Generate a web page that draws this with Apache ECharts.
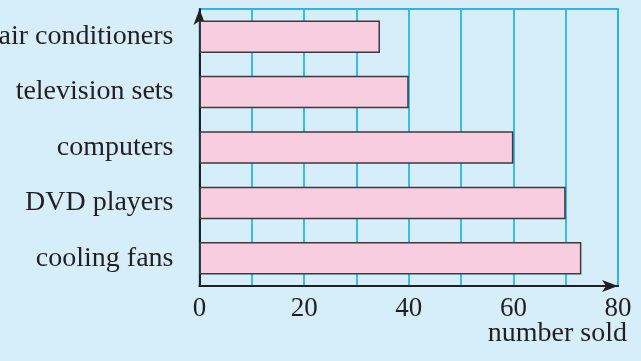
<!DOCTYPE html>
<html>
<head>
<meta charset="utf-8">
<script src="https://cdn.jsdelivr.net/npm/echarts@6/dist/echarts.min.js"></script>
<style>
html,body{margin:0;padding:0;background:#d6eefa;}
#chart{width:641px;height:361px;}
</style>
</head>
<body>
<div id="chart"></div>
<script>
const categories = ['air conditioners', 'television sets', 'computers', 'DVD players', 'cooling fans'];
const numberSold = [34.5, 40, 60, 70, 73];
const tickLabels = [0, 20, 40, 60, 80];
const axisTitle = 'number sold';

const chart = echarts.init(document.getElementById('chart'), null, {renderer: 'canvas'});
const font = '"Liberation Serif", "Times New Roman", serif';
chart.setOption({
  backgroundColor: '#d6eefa',
  animation: false,
  grid: {
    left: 199.5, right: 23, top: 9, bottom: 75,
    containLabel: false, outerBoundsMode: 'none',
    show: true, borderColor: '#2bb5e8', borderWidth: 1.8, backgroundColor: 'transparent'
  },
  xAxis: {
    type: 'value', min: 0, max: 80, interval: 10,
    axisLine: {show: true, lineStyle: {color: '#231f20', width: 2}, symbol: ['none', 'arrow'], symbolSize: [9, 16], symbolOffset: [0, 0]},
    axisTick: {show: false},
    splitLine: {show: true, lineStyle: {color: '#2bb5e8', width: 1.8}},
    axisLabel: {
      color: '#231f20', fontFamily: font, fontSize: 27, margin: 9,
      formatter: v => tickLabels.indexOf(v) >= 0 ? String(v) : ''
    }
  },
  yAxis: {
    type: 'category', data: categories, inverse: true,
    axisLine: {show: true, lineStyle: {color: '#231f20', width: 2}, symbol: ['none', 'arrow'], symbolSize: [9, 16], symbolOffset: [0, 0]},
    axisTick: {show: false},
    splitLine: {show: false},
    axisLabel: {color: '#231f20', fontFamily: font, fontSize: 28, margin: 26}
  },
  graphic: [{
    type: 'text', right: 14, top: 320,
    style: {text: axisTitle, fill: '#231f20', font: '28px ' + font}
  }],
  series: [{
    type: 'bar', data: numberSold, barWidth: 32.5,
    itemStyle: {color: '#f9cde0', borderColor: '#3d3a3b', borderWidth: 1.5}
  }]
});
</script>
</body>
</html>
